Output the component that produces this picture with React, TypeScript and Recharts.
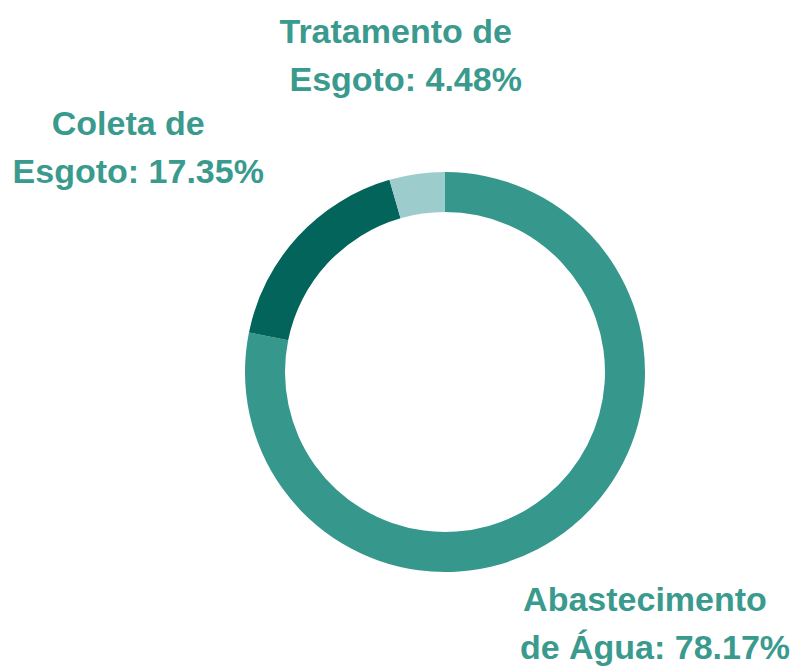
import React from 'react';
import { PieChart, Pie, Cell } from 'recharts';

const sectors = ['Abastecimento de Água', 'Coleta de Esgoto', 'Tratamento de Esgoto'];
const labelLines = [['Abastecimento', 'de Água'], ['Coleta de', 'Esgoto'], ['Tratamento de', 'Esgoto']];
const shares = [78.17, 17.35, 4.48];
const colors = ['#36978c', '#02645a', '#9ccccc'];

const data = sectors.map((name, i) => ({ name, value: shares[i], lines: labelLines[i] }));

// small text nudges so the labels sit where the original put them
const nudge: Record<string, { dx: number; dy: number }> = {
  'Abastecimento de Água': { dx: 1, dy: -4 },
  'Coleta de Esgoto': { dx: -64, dy: -1 },
  'Tratamento de Esgoto': { dx: 7, dy: 10 },
};

const RAD = Math.PI / 180;
const TEXT = '#3a9a8e';

function renderLabel(props: any) {
  const { cx, cy, midAngle, outerRadius, payload, value } = props;
  const r = outerRadius + 130;
  const n = nudge[payload.name] || { dx: 0, dy: 0 };
  const x = cx + r * Math.cos(-midAngle * RAD) + n.dx;
  const y = cy + r * Math.sin(-midAngle * RAD) + n.dy;
  const lines: string[] = payload.lines;
  // first line carries a trailing space in the original, so it sits a bit left
  return (
    <text
      x={x}
      y={y - 12.5}
      textAnchor="middle"
      fill={TEXT}
      style={{ fontFamily: '"Liberation Sans", Arial, sans-serif', fontWeight: 700, fontSize: 34 }}
    >
      <tspan x={x - 10} y={y - 12.5}>{lines[0]}</tspan>
      <tspan x={x} y={y + 35.5}>{`${lines[1]}: ${Number(value).toFixed(2)}%`}</tspan>
    </text>
  );
}

export default function App() {
  return (
    <div style={{ position: 'absolute', left: 0, top: 0, width: 795, height: 666, background: '#fff' }}>
      <PieChart width={795} height={666} margin={{ top: 0, right: 0, bottom: 0, left: 0 }}>
        <Pie
          data={data}
          dataKey="value"
          nameKey="name"
          cx={445}
          cy={372}
          innerRadius={160}
          outerRadius={200}
          startAngle={90}
          endAngle={-270}
          stroke="none"
          label={renderLabel}
          labelLine={false}
          isAnimationActive={false}
        >
          {data.map((d, i) => (
            <Cell key={d.name} fill={colors[i]} />
          ))}
        </Pie>
      </PieChart>
    </div>
  );
}
